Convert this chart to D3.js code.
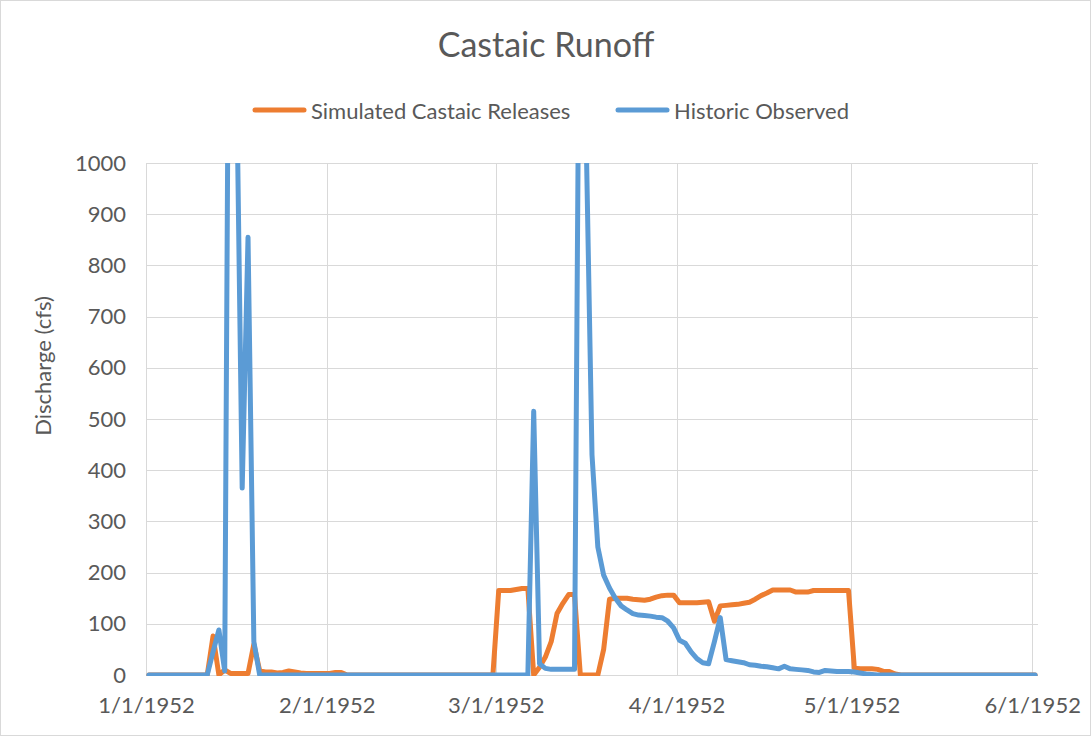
<!DOCTYPE html>
<html>
<head>
<meta charset="utf-8">
<script src="https://cdn.jsdelivr.net/npm/d3@7"></script>
<style>
  html, body { margin: 0; padding: 0; background: #fff; }
  svg { display: block; font-family: Lato, "Open Sans", sans-serif; }
</style>
</head>
<body>
<svg id="chart" width="1092" height="738"></svg>
<script>
// Daily series, 1 Jan 1952 through 1 Jun 1952 (cfs)
const startDate = new Date(1952, 0, 1);
const endDate = new Date(1952, 5, 2);
const dates = d3.timeDay.range(startDate, endDate);

const simulatedReleases = [
  0,0,0,0,0,0,0,0,0,0,0,
  76,0,10,3,3,3,3,60,8,6,
  6,4,5,8,6,4,3,3,3,3,
  3,5,5,
  0,0,0,0,0,0,0,0,0,0,0,0,0,0,0,0,0,0,0,0,0,0,0,0,0,0,
  165,165,165,167,169,169,
  0,15,35,65,120,140,157,157,
  0,0,0,0,
  50,148,150,150,150,148,147,146,148,152,155,156,156,
  141,141,141,141,142,143,
  105,135,136,137,138,140,142,148,155,160,
  166,166,166,166,162,162,162,165,165,165,165,165,165,165,
  13,12,12,12,11,7,7,2,
  0,0,0,0,0,0,0,0,0,0,0,0,0,0,0,0,0,0,0,0,0,0,0,0
];

const historicObserved = [
  0,0,0,0,0,0,0,0,0,0,0,
  45,88,8,2000,1200,365,855,65,
  0,0,0,0,0,0,0,0,0,0,0,0,0,0,0,0,0,0,0,0,0,0,0,0,
  0,0,0,0,0,0,0,0,0,0,0,0,0,0,0,0,0,0,0,0,0,0,0,
  515,22,13,11,11,11,11,11,
  1650,1050,430,250,195,170,150,135,127,120,117,116,115,113,112,105,92,
  68,62,45,32,24,22,65,112,30,28,
  26,24,20,19,17,16,14,12,17,12,
  11,10,9,6,5,9,8,7,7,7,
  6,4,2,1,
  0,0,0,0,0,0,0,0,0,0,0,0,0,0,0,0,0,0,0,0,0,0,0,0,0,0,0,0
];

const seriesNames = ["Simulated Castaic Releases", "Historic Observed"];
const xTickLabels = ["1/1/1952", "2/1/1952", "3/1/1952", "4/1/1952", "5/1/1952", "6/1/1952"];
const yTickValues = [0, 100, 200, 300, 400, 500, 600, 700, 800, 900, 1000];

const colors = { sim: "#ED7D31", obs: "#5B9BD5", grid: "#D9D9D9", text: "#595959" };

const svg = d3.select("#chart");
const W = 1092, H = 738;
const plot = { left: 146, right: 1038, top: 163, bottom: 675 };

// chart area border
svg.append("rect")
  .attr("x", 0.5).attr("y", 0.5)
  .attr("width", W - 2).attr("height", H - 3)
  .attr("fill", "#fff").attr("stroke", colors.grid);

// Each day occupies one slot; points sit at the middle of the day
const x = d3.scaleTime().domain([startDate, endDate]).range([plot.left, plot.right]);
const y = d3.scaleLinear().domain([0, 1000]).range([plot.bottom, plot.top]);
const parseTick = d3.timeParse("%m/%d/%Y");
const xTickDates = xTickLabels.map(parseTick);
const mid = d => d3.timeHour.offset(d, 12);

// gridlines
const grid = svg.append("g").attr("stroke", colors.grid).attr("stroke-width", 1);
grid.selectAll("line.h").data(yTickValues).join("line")
  .attr("class", "h")
  .attr("x1", plot.left).attr("x2", plot.right)
  .attr("y1", d => Math.round(y(d)) + 0.5).attr("y2", d => Math.round(y(d)) + 0.5);
grid.selectAll("line.v").data(xTickDates).join("line")
  .attr("class", "v")
  .attr("x1", d => Math.round(x(d)) + 0.5).attr("x2", d => Math.round(x(d)) + 0.5)
  .attr("y1", plot.top).attr("y2", plot.bottom);

// axes (labels only)
const yAxis = d3.axisLeft(y).tickValues(yTickValues).tickSize(0).tickPadding(20)
  .tickFormat(d3.format("d"));
const gy = svg.append("g").attr("transform", `translate(${plot.left},0)`).call(yAxis);
const xAxis = d3.axisBottom(x).tickValues(xTickDates).tickSize(0).tickPadding(22)
  .tickFormat((d, i) => xTickLabels[i]);
const gx = svg.append("g").attr("transform", `translate(0,${plot.bottom})`).call(xAxis);
[gx, gy].forEach(g => {
  g.select(".domain").remove();
  g.selectAll("text").attr("fill", colors.text).style("font-size", "22px")
    .style("font-family", "Lato, 'Open Sans', sans-serif");
});

// clip lines to the plot area
svg.append("clipPath").attr("id", "plotClip")
  .append("rect").attr("x", plot.left).attr("y", plot.top)
  .attr("width", plot.right - plot.left).attr("height", plot.bottom - plot.top + 1);

const line = d3.line()
  .x((d, i) => x(mid(dates[i])))
  .y(d => y(d));

const lines = svg.append("g").attr("clip-path", "url(#plotClip)")
  .attr("fill", "none").attr("stroke-width", 5)
  .attr("stroke-linejoin", "round").attr("stroke-linecap", "round");
lines.append("path").datum(simulatedReleases).attr("stroke", colors.sim).attr("d", line);
lines.append("path").datum(historicObserved).attr("stroke", colors.obs).attr("d", line);

// title
svg.append("text")
  .attr("x", 546).attr("y", 57)
  .attr("text-anchor", "middle")
  .attr("fill", colors.text)
  .style("font-size", "34px")
  .text("Castaic Runoff");

// y-axis title
svg.append("text")
  .attr("transform", "translate(42,366) rotate(-90)")
  .attr("text-anchor", "middle")
  .attr("dominant-baseline", "central")
  .attr("fill", colors.text)
  .style("font-size", "22px")
  .text("Discharge (cfs)");

// legend
const legendItems = [
  { name: seriesNames[0], color: colors.sim, x0: 253 },
  { name: seriesNames[1], color: colors.obs, x0: 616 }
];
const lg = svg.append("g");
legendItems.forEach(it => {
  lg.append("line")
    .attr("x1", it.x0 + 2).attr("x2", it.x0 + 51)
    .attr("y1", 110).attr("y2", 110)
    .attr("stroke", it.color).attr("stroke-width", 5)
    .attr("stroke-linecap", "round");
  lg.append("text")
    .attr("x", it.x0 + 58).attr("y", 110)
    .attr("dominant-baseline", "central")
    .attr("fill", colors.text)
    .style("font-size", "22px")
    .text(it.name);
});
</script>
</body>
</html>
